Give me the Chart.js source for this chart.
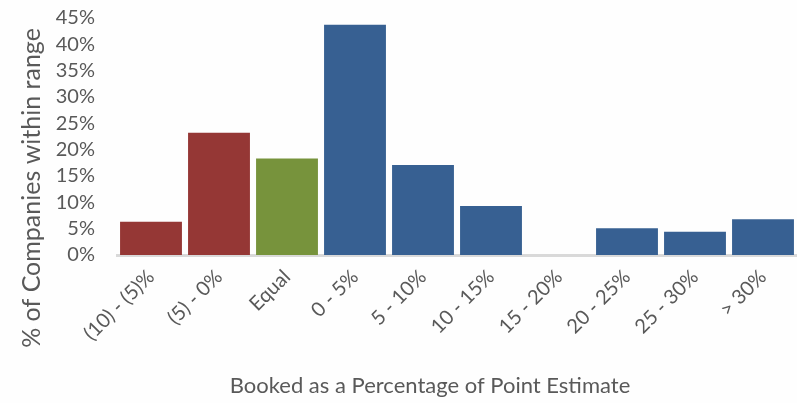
<!DOCTYPE html>
<html>
<head>
<meta charset="utf-8">
<script src="https://cdn.jsdelivr.net/npm/chart.js@4"></script>
<style>
  html, body { margin: 0; padding: 0; background: #fefefe; }
  #wrap { width: 797px; height: 403px; }
</style>
</head>
<body>
<div id="wrap"><canvas id="chart" width="797" height="403"></canvas></div>
<script>
const categories = ['(10) - (5)%', '(5) - 0%', 'Equal', '0 - 5%', '5 - 10%', '10 - 15%', '15 - 20%', '20 - 25%', '25 - 30%', '> 30%'];
const shares = [6.3, 23.2, 18.3, 43.7, 17.1, 9.3, 0, 5.1, 4.4, 6.8];
const yTicks = [0, 5, 10, 15, 20, 25, 30, 35, 40, 45];

const RED = '#953735', GREEN = '#77933c', BLUE = '#376092';
const barColors = [RED, RED, GREEN, BLUE, BLUE, BLUE, BLUE, BLUE, BLUE, BLUE];

const FONT = 'Lato, "Open Sans", sans-serif';
const GREY = '#595959';

// axis titles are placed by hand so they sit where the original layout has them
const axisTitles = {
  id: 'axisTitles',
  afterDraw(chart) {
    const ctx = chart.ctx;
    ctx.save();
    ctx.fillStyle = GREY;
    ctx.textAlign = 'center';
    ctx.textBaseline = 'middle';
    ctx.font = '22px ' + FONT;
    ctx.fillText('Booked as a Percentage of Point Estimate', 430, 386);
    ctx.translate(32, 188);
    ctx.rotate(-Math.PI / 2);
    ctx.font = '25px ' + FONT;
    ctx.fillText('% of Companies within range', 0, 0);
    ctx.restore();
  }
};

new Chart(document.getElementById('chart'), {
  type: 'bar',
  data: {
    labels: categories,
    datasets: [{
      data: shares,
      backgroundColor: barColors,
      borderWidth: 0,
      barPercentage: 0.91,
      categoryPercentage: 1
    }]
  },
  options: {
    responsive: false,
    animation: false,
    layout: { padding: { top: 18, left: 0, right: 0, bottom: 0 } },
    plugins: { legend: { display: false }, tooltip: { enabled: false } },
    scales: {
      x: {
        grid: { display: false, drawTicks: false },
        border: { display: true, color: '#d9d9d9', width: 3 },
        ticks: {
          color: GREY,
          font: { family: FONT, size: 20 },
          minRotation: 45,
          maxRotation: 45,
          padding: 10
        },
        afterFit(scale) { scale.height = 148; }
      },
      y: {
        min: 0,
        max: 45,
        afterBuildTicks(scale) { scale.ticks = yTicks.map(v => ({ value: v })); },
        grid: { display: false, drawTicks: false },
        border: { display: false },
        ticks: {
          color: GREY,
          font: { family: FONT, size: 20 },
          padding: 22,
          autoSkip: false,
          callback: v => v + '%'
        },
        afterFit(scale) {
          scale.width = 117;
          scale.paddingTop = 0;
          scale.paddingBottom = 0;
        }
      }
    }
  },
  plugins: [axisTitles]
});
</script>
</body>
</html>
